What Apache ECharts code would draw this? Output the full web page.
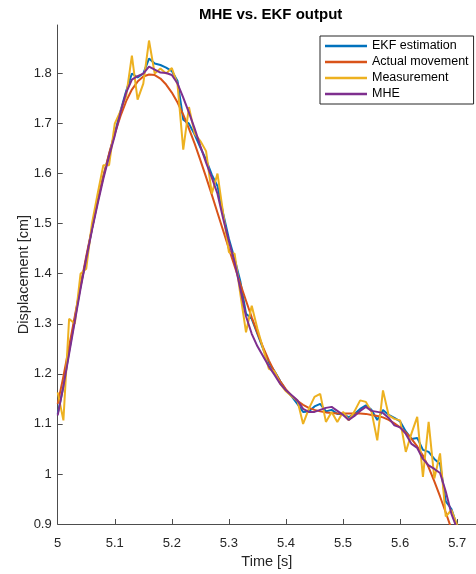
<!DOCTYPE html>
<html>
<head>
<meta charset="utf-8">
<script src="https://cdn.jsdelivr.net/npm/echarts@6/dist/echarts.min.js"></script>
<style>html,body{margin:0;padding:0;background:#fff;}#c{width:476px;height:574px;}</style>
</head>
<body>
<div id="c"></div>
<script>
const time = [5.00,5.01,5.02,5.03,5.04,5.05,5.06,5.07,5.08,5.09,5.10,5.11,5.12,5.13,5.14,5.15,5.16,5.17,5.18,5.19,5.20,5.21,5.22,5.23,5.24,5.25,5.26,5.27,5.28,5.29,5.30,5.31,5.32,5.33,5.34,5.35,5.36,5.37,5.38,5.39,5.40,5.41,5.42,5.43,5.44,5.45,5.46,5.47,5.48,5.49,5.50,5.51,5.52,5.53,5.54,5.55,5.56,5.57,5.58,5.59,5.60,5.61,5.62,5.63,5.64,5.65,5.66,5.67,5.68,5.69,5.70];
const ekf = [1.12,1.175,1.245,1.31,1.375,1.43,1.49,1.545,1.595,1.638,1.68,1.725,1.765,1.80,1.792,1.80,1.83,1.82,1.817,1.812,1.805,1.785,1.708,1.70,1.678,1.652,1.628,1.598,1.575,1.52,1.47,1.43,1.385,1.32,1.31,1.28,1.25,1.222,1.205,1.185,1.167,1.155,1.14,1.124,1.125,1.135,1.14,1.125,1.128,1.12,1.12,1.113,1.12,1.13,1.137,1.128,1.108,1.128,1.118,1.112,1.105,1.085,1.07,1.072,1.048,1.044,1.03,1.02,0.945,0.93,0.895];
const actual = [1.14,1.195,1.255,1.315,1.375,1.435,1.49,1.545,1.595,1.64,1.68,1.715,1.745,1.768,1.784,1.794,1.798,1.797,1.79,1.778,1.762,1.742,1.718,1.69,1.66,1.627,1.593,1.558,1.522,1.486,1.45,1.415,1.38,1.346,1.313,1.282,1.253,1.227,1.204,1.185,1.169,1.156,1.146,1.138,1.132,1.128,1.125,1.123,1.122,1.121,1.121,1.121,1.121,1.121,1.12,1.118,1.116,1.113,1.108,1.101,1.093,1.083,1.07,1.055,1.037,1.013,0.985,0.955,0.923,0.89,0.855];
const measurement = [1.163,1.107,1.31,1.30,1.40,1.41,1.50,1.56,1.617,1.617,1.70,1.725,1.755,1.836,1.748,1.78,1.866,1.80,1.81,1.80,1.811,1.778,1.648,1.733,1.68,1.665,1.645,1.56,1.60,1.52,1.443,1.44,1.36,1.283,1.336,1.29,1.25,1.21,1.205,1.18,1.165,1.155,1.147,1.10,1.13,1.154,1.16,1.104,1.124,1.104,1.124,1.107,1.125,1.147,1.144,1.124,1.067,1.167,1.117,1.11,1.107,1.044,1.081,1.114,0.994,1.104,0.991,1.041,0.915,0.928,0.898];
const mhe = [1.117,1.175,1.24,1.305,1.37,1.43,1.487,1.54,1.59,1.635,1.676,1.722,1.762,1.788,1.795,1.80,1.814,1.808,1.802,1.801,1.797,1.78,1.752,1.722,1.69,1.655,1.622,1.592,1.56,1.51,1.465,1.423,1.37,1.315,1.28,1.255,1.235,1.215,1.198,1.18,1.167,1.157,1.147,1.13,1.124,1.124,1.128,1.132,1.134,1.126,1.118,1.108,1.116,1.126,1.134,1.126,1.124,1.122,1.112,1.097,1.093,1.08,1.06,1.052,1.03,1.017,1.01,1.002,0.965,0.92,0.89];
const xTicks = [5,5.1,5.2,5.3,5.4,5.5,5.6,5.7];
const yTicks = [0.9,1,1.1,1.2,1.3,1.4,1.5,1.6,1.7,1.8];
const seriesNames = ['EKF estimation','Actual movement','Measurement','MHE'];
const seriesColors = ['#0072BD','#D95319','#EDB120','#7E2F8E'];
const seriesValues = [ekf, actual, measurement, mhe];

const font = 'Helvetica, "Liberation Sans", Arial, sans-serif';
const lineIcon = 'path://M0,0 M0,5.75 L42,5.75 L42,8.25 L0,8.25 Z M42,14';
const chart = echarts.init(document.getElementById('c'), null, {renderer:'canvas'});
const axisCommon = {
  axisLine:{show:true, lineStyle:{color:'#4d4d4d', width:1}},
  axisTick:{show:true, inside:true, length:5, lineStyle:{color:'#4d4d4d', width:1}},
  splitLine:{show:false},
  axisLabel:{color:'#262626', fontFamily:font, fontSize:13},
  nameTextStyle:{color:'#262626', fontFamily:font, fontSize:14.5},
  nameMoveOverlap:false
};
chart.setOption({
  animation:false,
  backgroundColor:'#fff',
  title:{text:'MHE vs. EKF output', left:199, top:7, padding:0, textStyle:{fontFamily:font, fontSize:15, fontWeight:'bold', color:'#000'}},
  grid:{left:57.7, top:25, width:426, height:500.7},
  legend:{
    orient:'vertical', left:320, top:36,
    backgroundColor:'#fff', borderColor:'#262626', borderWidth:1,
    padding:[3,5,3,5], itemWidth:42, itemHeight:14, itemGap:2,
    icon:lineIcon,
    textStyle:{fontFamily:font, fontSize:12.5, color:'#000', lineHeight:14},
    data:seriesNames
  },
  xAxis:Object.assign({}, axisCommon, {
    type:'value', min:5, max:5.733, name:'Time [s]', nameLocation:'middle', nameGap:30,
    axisTick:Object.assign({}, axisCommon.axisTick, {customValues:xTicks}),
    axisLabel:Object.assign({}, axisCommon.axisLabel, {margin:13, customValues:xTicks, formatter:v=>String(+v.toFixed(2))})
  }),
  yAxis:Object.assign({}, axisCommon, {
    type:'value', min:0.9, max:1.897, name:'Displacement [cm]', nameLocation:'middle', nameGap:26,
    axisTick:Object.assign({}, axisCommon.axisTick, {customValues:yTicks}),
    axisLabel:Object.assign({}, axisCommon.axisLabel, {margin:6, customValues:yTicks, formatter:v=>String(+v.toFixed(2))})
  }),
  series:seriesNames.map((n,i)=>({
    name:n, type:'line', symbol:'none', clip:true,
    data:time.map((t,j)=>[t, seriesValues[i][j]]),
    lineStyle:{color:seriesColors[i], width:2},
    itemStyle:{color:seriesColors[i]}
  }))
});
</script>
</body>
</html>
